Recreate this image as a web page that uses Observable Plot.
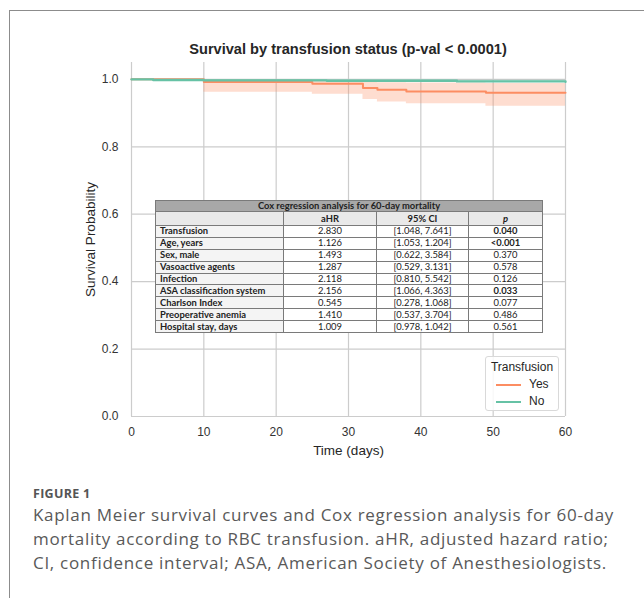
<!DOCTYPE html>
<html>
<head>
<meta charset="utf-8">
<script src="https://cdn.jsdelivr.net/npm/d3@7"></script>
<script src="https://cdn.jsdelivr.net/npm/@observablehq/plot@0.6"></script>
<style>
  html, body { margin: 0; padding: 0; background: #fff; }
  #root { position: relative; width: 644px; height: 598px; overflow: hidden; background: #fff; }
  #frame { position: absolute; left: 9px; top: 10px; width: 700px; height: 700px; border-left: 1px solid #8c8c8c; border-top: 1px solid #8c8c8c; }
  #title { position: absolute; left: 131px; width: 434px; top: 41px; text-align: center; font: bold 14.6px "Liberation Sans", Arial, sans-serif; color: #262626; white-space: nowrap; }
  #chart { position: absolute; left: 0; top: 60px; }
  #cox { position: absolute; left: 155px; top: 200px; border-collapse: collapse; font-family: Lato, "Noto Sans", sans-serif; font-size: 9.4px; color: #222; table-layout: fixed; background: #fff; }
  #cox td { border: 1px solid #7a7a7a; padding: 0; text-align: center; line-height: 10px; overflow: hidden; white-space: nowrap; }
  #cox tr.data td { height: 10.9px; }
  #cox tr.data td.lab { text-align: left; padding-left: 4px; font-weight: bold; background: #f4f4f4; }
  #cox tr.ttl td { background: #a8a8a8; font-weight: bold; height: 9px; }
  #cox tr.hdr td { background: #e9e9e9; font-weight: bold; height: 13px; }
  #cox { border: 1.3px solid #555; }
  #legend { position: absolute; left: 485px; top: 356px; width: 72px; height: 53px; border: 1px solid #d9d9d9; border-radius: 3px; background: rgba(255,255,255,0.85); font: 12px "Liberation Sans", Arial, sans-serif; color: #262626; }
  #legend .lt { position: absolute; left: 0; width: 72px; top: 3px; text-align: center; }
  #legend .it { position: absolute; left: 10px; height: 14px; line-height: 14px; }
  #legend .sw { display: inline-block; width: 25px; height: 0; border-top: 2px solid; vertical-align: middle; margin-right: 8px; }
  #fig { position: absolute; left: 33px; top: 485px; font: bold 12.5px "Open Sans", sans-serif; color: #555; letter-spacing: 0.3px; }
  #cap { position: absolute; left: 33px; top: 503px; font: 17px "Open Sans", sans-serif; color: #595959; line-height: 23.8px; letter-spacing: 0.7px; white-space: nowrap; }
</style>
</head>
<body>
<div id="root">
  <div id="frame"></div>
  <div id="title"></div>
  <div id="chart"></div>
  <table id="cox"></table>
  <div id="legend"></div>
  <div id="fig"></div>
  <div id="cap"></div>
</div>
<script>
// ---- Kaplan–Meier data ----
const yesTime  = [0, 10, 25, 32, 34, 38, 49, 60];
const yesSurv  = [1.000, 0.992, 0.987, 0.974, 0.969, 0.964, 0.960, 0.960];
const yesLower = [1.000, 0.962, 0.956, 0.940, 0.933, 0.928, 0.920, 0.920];
const yesUpper = [1.000, 0.998, 0.996, 0.992, 0.990, 0.989, 0.988, 0.988];

const noTime  = [0, 3, 10, 27, 45, 60];
const noSurv  = [1.000, 0.998, 0.997, 0.996, 0.994, 0.993];
const noLower = [1.000, 0.996, 0.995, 0.993, 0.991, 0.990];
const noUpper = [1.000, 1.000, 0.999, 0.998, 0.997, 0.996];

const xTicks = [0, 10, 20, 30, 40, 50, 60];
const yTicks = [0, 0.2, 0.4, 0.6, 0.8, 1.0];

const groupNames = ["Yes", "No"];
const groupColors = ["#fc8d62", "#66c2a5"];

// ---- Cox regression table ----
const tableTitle = "Cox regression analysis for 60-day mortality";
const tableHeader = ["", "aHR", "95% CI", "p"];
const covariates = ["Transfusion", "Age, years", "Sex, male", "Vasoactive agents", "Infection",
  "ASA classification system", "Charlson Index", "Preoperative anemia", "Hospital stay, days"];
const aHR = ["2.830", "1.126", "1.493", "1.287", "2.118", "2.156", "0.545", "1.410", "1.009"];
const ci95 = ["[1.048, 7.641]", "[1.053, 1.204]", "[0.622, 3.584]", "[0.529, 3.131]", "[0.810, 5.542]",
  "[1.066, 4.363]", "[0.278, 1.068]", "[0.537, 3.704]", "[0.978, 1.042]"];
const pValues = ["0.040", "<0.001", "0.370", "0.578", "0.126", "0.033", "0.077", "0.486", "0.561"];
const pSignificant = [true, true, false, false, false, true, false, false, false];

const titleText = "Survival by transfusion status (p-val < 0.0001)";
const xLabel = "Time (days)";
const yLabel = "Survival Probability";
const legendTitle = "Transfusion";
const figLabel = "FIGURE 1";
const captionLines = [
  "Kaplan Meier survival curves and Cox regression analysis for 60-day",
  "mortality according to RBC transfusion. aHR, adjusted hazard ratio;",
  "CI, confidence interval; ASA, American Society of Anesthesiologists."
];

const yesRows = yesTime.map((t, i) => ({t, s: yesSurv[i], lo: yesLower[i], hi: yesUpper[i]}));
const noRows = noTime.map((t, i) => ({t, s: noSurv[i], lo: noLower[i], hi: noUpper[i]}));

document.getElementById("title").textContent = titleText;

const chart = Plot.plot({
  width: 644,
  height: 400,
  marginLeft: 131,
  marginRight: 79,
  marginTop: 2,
  marginBottom: 44,
  style: { fontFamily: '"Liberation Sans", Arial, sans-serif', fontSize: "12px", color: "#333", background: "transparent" },
  x: { domain: [0, 60] },
  y: { domain: [0, 1.05] },
  marks: [
    Plot.ruleX(xTicks, { x: d => d, stroke: "#cccccc", strokeWidth: 1.2 }),
    Plot.ruleY(yTicks, { y: d => d, stroke: "#cccccc", strokeWidth: 1.2 }),
    Plot.axisX({ ticks: xTicks, tickSize: 0, tickPadding: 11, label: null, fontSize: 12 }),
    Plot.axisY({ ticks: yTicks, tickSize: 0, tickPadding: 13, tickFormat: d3.format(".1f"), label: null, fontSize: 12 }),
    Plot.text([xLabel], { frameAnchor: "bottom", dy: 34, lineAnchor: "middle", textAnchor: "middle", fontSize: 13.5, fill: "#262626" }),
    Plot.text([yLabel], { frameAnchor: "left", dx: -41, rotate: -90, lineAnchor: "middle", textAnchor: "middle", fontSize: 13.5, fill: "#262626" }),
    Plot.areaY(yesRows, { x: "t", y1: "lo", y2: "hi", curve: "step-after", fill: groupColors[0], fillOpacity: 0.3 }),
    Plot.areaY(noRows, { x: "t", y1: "lo", y2: "hi", curve: "step-after", fill: groupColors[1], fillOpacity: 0.3 }),
    Plot.lineY(yesRows, { x: "t", y: "s", curve: "step-after", stroke: groupColors[0], strokeWidth: 2 }),
    Plot.lineY(noRows, { x: "t", y: "s", curve: "step-after", stroke: groupColors[1], strokeWidth: 2.4 })
  ]
});
document.getElementById("chart").appendChild(chart);

// table
const tbl = document.getElementById("cox");
const colW = [128, 93, 92, 74];
const cg = document.createElement("colgroup");
colW.forEach(w => { const c = document.createElement("col"); c.style.width = w + "px"; cg.appendChild(c); });
tbl.appendChild(cg);
tbl.style.width = d3.sum(colW) + "px";
{
  const tr = tbl.insertRow(); tr.className = "ttl";
  const td = tr.insertCell(); td.colSpan = 4; td.textContent = tableTitle;
}
{
  const tr = tbl.insertRow(); tr.className = "hdr";
  tableHeader.forEach((h, i) => {
    const td = tr.insertCell();
    if (i === 3) { const em = document.createElement("i"); em.textContent = h; td.appendChild(em); }
    else td.textContent = h;
  });
}
covariates.forEach((c, i) => {
  const tr = tbl.insertRow(); tr.className = "data";
  const a = tr.insertCell(); a.className = "lab"; a.textContent = c;
  tr.insertCell().textContent = aHR[i];
  tr.insertCell().textContent = ci95[i];
  const p = tr.insertCell(); p.textContent = pValues[i];
  if (pSignificant[i]) p.style.fontWeight = "bold";
});

// legend
const lg = document.getElementById("legend");
const lt = document.createElement("div"); lt.className = "lt"; lt.textContent = legendTitle; lg.appendChild(lt);
groupNames.forEach((g, i) => {
  const it = document.createElement("div"); it.className = "it"; it.style.top = (20 + i * 17) + "px";
  const sw = document.createElement("span"); sw.className = "sw"; sw.style.borderColor = groupColors[i];
  it.appendChild(sw); it.appendChild(document.createTextNode(g));
  lg.appendChild(it);
});

document.getElementById("fig").textContent = figLabel;
const cap = document.getElementById("cap");
captionLines.forEach((l, i) => { if (i) cap.appendChild(document.createElement("br")); cap.appendChild(document.createTextNode(l)); });
</script>
</body>
</html>
